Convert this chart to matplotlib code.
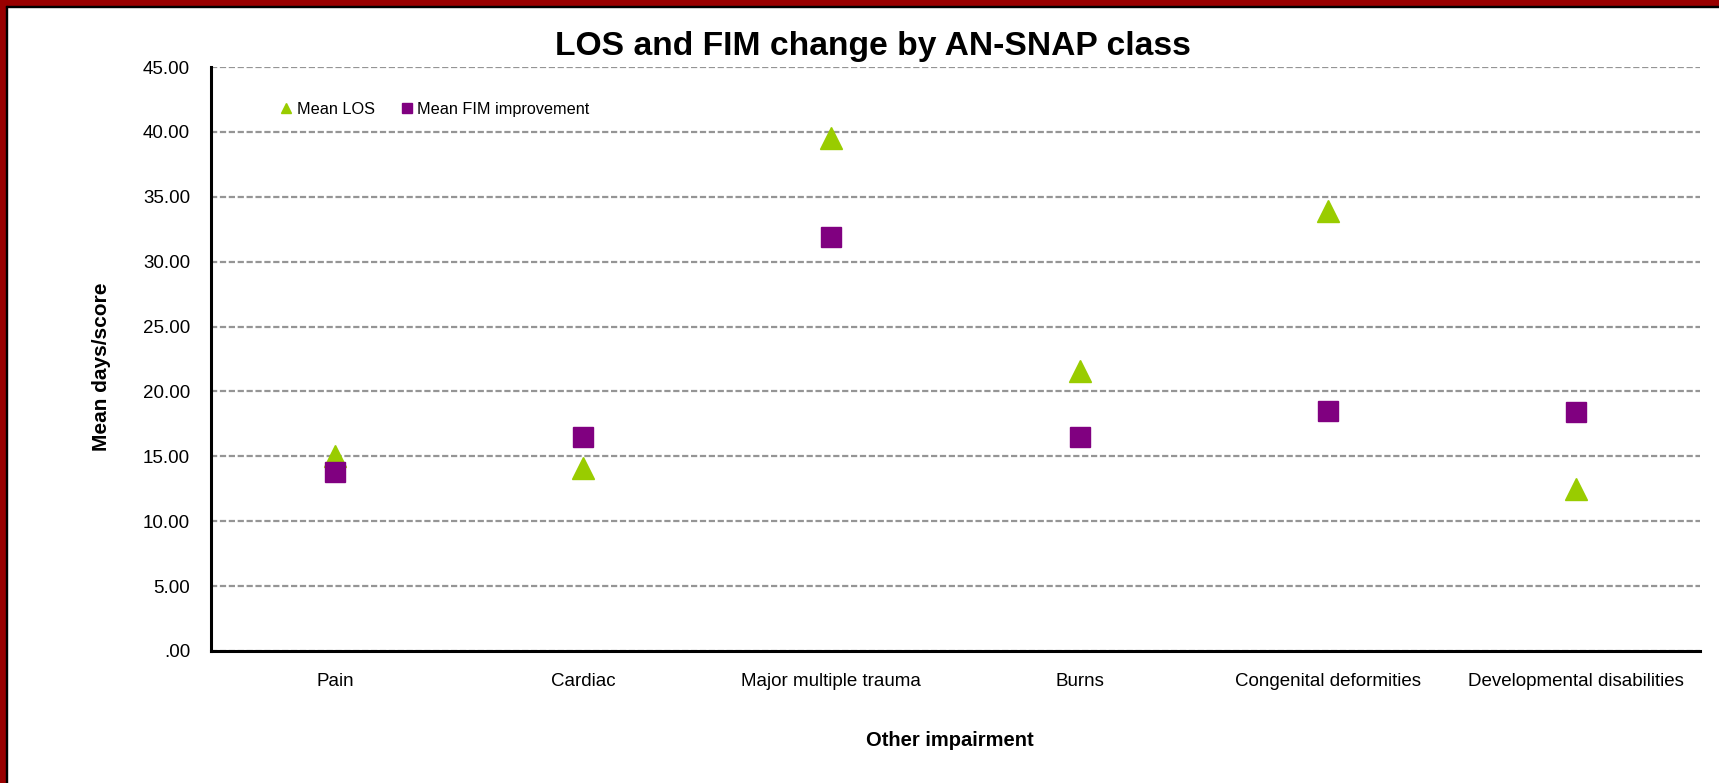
import matplotlib
matplotlib.use("Agg")
import matplotlib.pyplot as plt
from matplotlib.patches import Rectangle

categories = ["Pain", "Cardiac", "Major multiple trauma", "Burns",
              "Congenital deformities", "Developmental disabilities"]
mean_los = [15.0, 14.1, 39.5, 21.6, 33.9, 12.5]
mean_fim = [13.8, 16.5, 31.9, 16.5, 18.5, 18.4]

plt.rcParams["font.family"] = ["Liberation Sans", "DejaVu Sans"]

fig = plt.figure(figsize=(17.19, 7.83), dpi=100)
ax = fig.add_axes([0.1227, 0.1686, 0.989 - 0.1227, 0.9144 - 0.1686])

x = range(len(categories))
ax.plot(x, mean_los, linestyle="none", marker="^", markersize=16.5,
        color="#99CC00", markeredgecolor="#99CC00", label="Mean LOS", zorder=3)
ax.plot(x, mean_fim, linestyle="none", marker="s", markersize=15,
        color="#800080", markeredgecolor="#800080", label="Mean FIM improvement", zorder=4)

ax.set_xlim(-0.5, len(categories) - 0.5)
ax.set_ylim(0, 45)
ticks = list(range(0, 50, 5))
ax.set_yticks(ticks)
ax.set_yticklabels([".00" if v == 0 else f"{v:.2f}" for v in ticks])
ax.set_xticks(list(x))
ax.set_xticklabels(categories)
ax.tick_params(axis="both", length=0, labelsize=13.5)
ax.tick_params(axis="y", pad=15)
ax.tick_params(axis="x", pad=16)

ax.yaxis.grid(True, color="#959595", linewidth=1.6, linestyle=(0, (2.8, 1.2)))
ax.set_axisbelow(True)
for side in ("top", "right"):
    ax.spines[side].set_visible(False)
for side in ("left", "bottom"):
    ax.spines[side].set_linewidth(2.2)
    ax.spines[side].set_color("black")

ax.set_ylabel("Mean days/score", fontsize=15, fontweight="bold")
ax.yaxis.set_label_coords(-0.0732, 0.486)
ax.yaxis.label.set_verticalalignment("center")
ax.set_xlabel("Other impairment", fontsize=14.5, fontweight="bold")
ax.xaxis.set_label_coords(0.496, -0.154)
ax.xaxis.label.set_verticalalignment("center")

fig.text(0.508, 0.930, "LOS and FIM change by AN-SNAP class", ha="center", va="baseline",
         fontsize=24.2, fontweight="bold")

ax.legend(loc="upper left", bbox_to_anchor=(0.037, 0.965), ncol=2, frameon=False,
          markerscale=0.47, handlelength=0.7, handletextpad=0.3, columnspacing=1.6,
          fontsize=11.7, numpoints=1)

# dark red frame on the left and top edges
red = "#990000"
W, H = 1719, 783
fig.patches.append(Rectangle((0, 0), 6 / W, 1, transform=fig.transFigure, color=red, zorder=10))
fig.patches.append(Rectangle((0, 1 - 6 / H), 1, 6 / H, transform=fig.transFigure, color=red, zorder=10))
fig.patches.append(Rectangle((6 / W, 0), 1 / W, 1 - 6 / H, transform=fig.transFigure, color="black", zorder=10))
fig.patches.append(Rectangle((6 / W, 1 - 7 / H), 1 - 6 / W, 1 / H, transform=fig.transFigure, color="black", zorder=10))

fig.savefig("out.png", dpi=100)
